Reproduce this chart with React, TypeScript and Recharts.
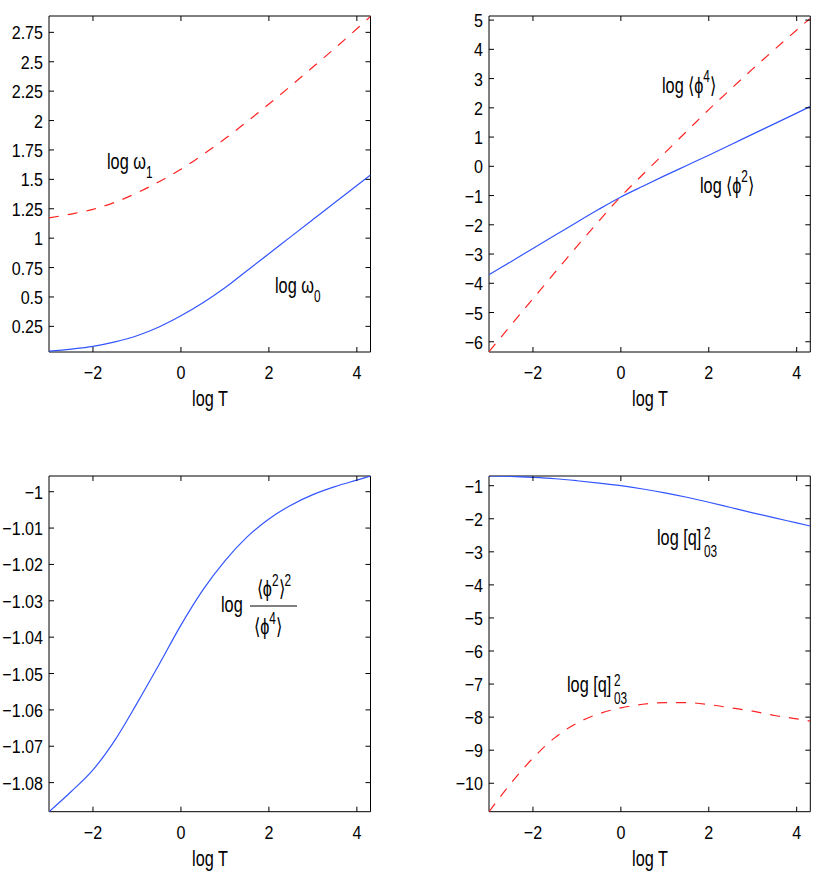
import type { ReactNode } from "react";
import { LineChart, Line, XAxis, YAxis, ReferenceArea } from "recharts";

// abscissa shared by all four panels
const logT = [-3, -2.5, -2, -1.5, -1, -0.5, 0, 0.5, 1, 1.5, 2, 2.5, 3, 3.5, 4, 4.31];

// top-left: log omega
const omega0 = [0.04, 0.057, 0.08, 0.118, 0.17, 0.245, 0.34, 0.45, 0.578, 0.723, 0.868, 1.013, 1.158, 1.303, 1.447, 1.537];
const omega1 = [1.172, 1.205, 1.245, 1.305, 1.385, 1.48, 1.585, 1.71, 1.845, 1.99, 2.14, 2.295, 2.455, 2.615, 2.78, 2.885];

// top-right: log <phi^2>, log <phi^4>
const phi2 = [-3.71, -3.26, -2.81, -2.36, -1.91, -1.47, -1.05, -0.68, -0.32, 0.03, 0.38, 0.74, 1.1, 1.46, 1.82, 2.05];
const phi4 = [-6.34, -5.43, -4.53, -3.63, -2.74, -1.87, -1.03, -0.28, 0.46, 1.2, 1.94, 2.64, 3.33, 4.0, 4.66, 5.06];

// bottom-left: log <phi^2>^2/<phi^4>
const ratio = [-1.088, -1.0825, -1.0765, -1.0683, -1.0582, -1.0476, -1.0367, -1.027, -1.019, -1.0125, -1.0075, -1.0037, -1.0008, -0.9986, -0.9968, -0.9957];

// bottom-right: log [q]^2_03
const qUpper = [-0.707, -0.72, -0.75, -0.79, -0.85, -0.92, -1.0, -1.1, -1.215, -1.35, -1.5, -1.66, -1.82, -1.975, -2.125, -2.22];
const qLower = [-10.86, -10.0, -9.24, -8.62, -8.18, -7.9, -7.72, -7.61, -7.56, -7.56, -7.62, -7.72, -7.82, -7.95, -8.05, -8.12];

// ticks
const ticksT = [-2, 0, 2, 4];
const ticksOmega = [0.25, 0.5, 0.75, 1, 1.25, 1.5, 1.75, 2, 2.25, 2.5, 2.75];
const ticksPhi = [-6, -5, -4, -3, -2, -1, 0, 1, 2, 3, 4, 5];
const ticksRatio = [-1.08, -1.07, -1.06, -1.05, -1.04, -1.03, -1.02, -1.01, -1];
const ticksQ = [-10, -9, -8, -7, -6, -5, -4, -3, -2, -1];

const T_DOMAIN: [number, number] = [-3, 4.31];
const FONT = '"Liberation Sans", Arial, sans-serif';
const BLUE = "#3355ff";
const RED = "#ff2222";
const TICK_LEN = 5;

const fmt = (v: number) => String(v).replace("-", "\u2212");

// narrow text (the original uses a condensed Helvetica)
function Txt({ x, y, size, sx, anchor, children }: { x: number; y: number; size: number; sx: number; anchor?: "start" | "middle" | "end"; children: ReactNode }) {
  return (
    <g transform={`translate(${x},${y}) scale(${sx},1)`}>
      <text x={0} y={0} fontSize={size} fontFamily={FONT} fill="#000" textAnchor={anchor ?? "start"}>
        {children}
      </text>
    </g>
  );
}

type Series = { key: string; values: number[]; color: string; dashed?: boolean };

type PanelProps = {
  left: number;
  top: number;
  width: number;
  height: number;
  yWidth: number;
  topMargin: number;
  rightMargin: number;
  bottomMargin: number;
  yDomain: [number, number];
  yTicks: number[];
  lines: Series[];
};

function Panel(p: PanelProps) {
  const data = logT.map((t, i) => {
    const row: Record<string, number> = { t };
    p.lines.forEach((l) => (row[l.key] = l.values[i]));
    return row;
  });
  const plotTop = p.topMargin;
  const plotBottom = p.height - p.bottomMargin - 60;
  const plotLeft = p.yWidth;
  const plotRight = p.width - p.rightMargin;

  // matlab style: ticks point inwards, on all four sides
  const xTick = (props: any) => {
    const { x, payload } = props;
    return (
      <g>
        <line x1={x} x2={x} y1={plotBottom} y2={plotBottom - TICK_LEN} stroke="#000" />
        <line x1={x} x2={x} y1={plotTop} y2={plotTop + TICK_LEN} stroke="#000" />
        <Txt x={x} y={plotBottom + 27} size={18.5} sx={0.87} anchor="middle">
          {fmt(payload.value)}
        </Txt>
      </g>
    );
  };
  const yTick = (props: any) => {
    const { y, payload } = props;
    return (
      <g>
        <line x1={plotLeft} x2={plotLeft + TICK_LEN} y1={y} y2={y} stroke="#000" />
        <line x1={plotRight - TICK_LEN} x2={plotRight} y1={y} y2={y} stroke="#000" />
        <Txt x={plotLeft - 6} y={y + 7} size={18.5} sx={0.87} anchor="end">
          {fmt(payload.value)}
        </Txt>
      </g>
    );
  };

  return (
    <div style={{ position: "absolute", left: p.left, top: p.top }}>
      <LineChart
        width={p.width}
        height={p.height}
        data={data}
        margin={{ top: p.topMargin, right: p.rightMargin, bottom: p.bottomMargin, left: 0 }}
      >
        <XAxis
          xAxisId="b"
          dataKey="t"
          type="number"
          domain={T_DOMAIN}
          allowDataOverflow
          ticks={ticksT}
          interval={0}
          tickLine={false}
          axisLine={false}
          tickSize={0}
          tickMargin={0}
          height={60}
          tick={xTick}
        />
        <YAxis
          yAxisId="l"
          type="number"
          domain={p.yDomain}
          allowDataOverflow
          ticks={p.yTicks}
          interval={0}
          tickLine={false}
          axisLine={false}
          tickSize={0}
          tickMargin={0}
          width={p.yWidth}
          tick={yTick}
        />
        {p.lines.map((l) => (
          <Line
            key={l.key}
            xAxisId="b"
            yAxisId="l"
            dataKey={l.key}
            type="monotone"
            stroke={l.color}
            strokeWidth={1.2}
            strokeDasharray={l.dashed ? "10 9" : undefined}
            dot={false}
            isAnimationActive={false}
          />
        ))}
        <ReferenceArea
          xAxisId="b"
          yAxisId="l"
          x1={T_DOMAIN[0]}
          x2={T_DOMAIN[1]}
          y1={p.yDomain[0]}
          y2={p.yDomain[1]}
          fill="none"
          stroke="#000"
          strokeWidth={1}
          ifOverflow="visible"
        />
      </LineChart>
    </div>
  );
}

function Annotations() {
  const L = 22; // label font size
  const S = 16; // sub/superscript size
  const K = 0.74; // horizontal squeeze
  return (
    <svg width={817} height={872} style={{ position: "absolute", left: 0, top: 0, pointerEvents: "none" }}>
      {/* axis titles */}
      <Txt x={210} y={406} size={L} sx={K} anchor="middle">log T</Txt>
      <Txt x={650} y={406} size={L} sx={K} anchor="middle">log T</Txt>
      <Txt x={210} y={866} size={L} sx={K} anchor="middle">log T</Txt>
      <Txt x={650} y={866} size={L} sx={K} anchor="middle">log T</Txt>

      {/* top-left */}
      <Txt x={107} y={169} size={L} sx={K}>
        log ω<tspan dy={9} fontSize={S}>1</tspan>
      </Txt>
      <Txt x={275} y={293} size={L} sx={K}>
        log ω<tspan dy={9} fontSize={S}>0</tspan>
      </Txt>

      {/* top-right */}
      <Txt x={662} y={93} size={L} sx={K}>
        log ⟨ϕ<tspan dy={-11} fontSize={S}>4</tspan>
        <tspan dy={11}>⟩</tspan>
      </Txt>
      <Txt x={700} y={193} size={L} sx={K}>
        log ⟨ϕ<tspan dy={-11} fontSize={S}>2</tspan>
        <tspan dy={11}>⟩</tspan>
      </Txt>

      {/* bottom-left */}
      <Txt x={221} y={612} size={L} sx={K}>log</Txt>
      <Txt x={274} y={596} size={L} sx={K} anchor="middle">
        ⟨ϕ<tspan dy={-10} fontSize={S}>2</tspan>
        <tspan dy={10}>⟩</tspan>
        <tspan dy={-10} fontSize={S}>2</tspan>
      </Txt>
      <line x1={250} x2={297} y1={606} y2={606} stroke="#000" strokeWidth={1} />
      <Txt x={268} y={634} size={L} sx={K} anchor="middle">
        ⟨ϕ<tspan dy={-10} fontSize={S}>4</tspan>
        <tspan dy={10}>⟩</tspan>
      </Txt>

      {/* bottom-right */}
      <Txt x={657} y={545} size={L} sx={K}>log [q]</Txt>
      <Txt x={704} y={539} size={S} sx={K}>2</Txt>
      <Txt x={704} y={557} size={S} sx={K}>03</Txt>
      <Txt x={567} y={692} size={L} sx={K}>log [q]</Txt>
      <Txt x={614} y={686} size={S} sx={K}>2</Txt>
      <Txt x={614} y={704} size={S} sx={K}>03</Txt>
    </svg>
  );
}

export default function App() {
  return (
    <div style={{ position: "absolute", left: 0, top: 0, width: 817, height: 872, background: "#fff", fontFamily: FONT }}>
      <Panel
        left={0}
        top={0}
        width={400}
        height={420}
        yWidth={49}
        topMargin={16}
        rightMargin={29.5}
        bottomMargin={8}
        yDomain={[0.032, 2.889]}
        yTicks={ticksOmega}
        lines={[
          { key: "omega0", values: omega0, color: BLUE },
          { key: "omega1", values: omega1, color: RED, dashed: true },
        ]}
      />
      <Panel
        left={400}
        top={0}
        width={417}
        height={420}
        yWidth={89}
        topMargin={16}
        rightMargin={6.7}
        bottomMargin={8}
        yDomain={[-6.35, 5.14]}
        yTicks={ticksPhi}
        lines={[
          { key: "phi2", values: phi2, color: BLUE },
          { key: "phi4", values: phi4, color: RED, dashed: true },
        ]}
      />
      <Panel
        left={0}
        top={440}
        width={400}
        height={432}
        yWidth={49}
        topMargin={36}
        rightMargin={29.5}
        bottomMargin={0.3}
        yDomain={[-1.088, -0.99568]}
        yTicks={ticksRatio}
        lines={[{ key: "ratio", values: ratio, color: BLUE }]}
      />
      <Panel
        left={400}
        top={440}
        width={417}
        height={432}
        yWidth={89}
        topMargin={36}
        rightMargin={6.7}
        bottomMargin={0.3}
        yDomain={[-10.86, -0.707]}
        yTicks={ticksQ}
        lines={[
          { key: "qUpper", values: qUpper, color: BLUE },
          { key: "qLower", values: qLower, color: RED, dashed: true },
        ]}
      />
      <Annotations />
    </div>
  );
}
